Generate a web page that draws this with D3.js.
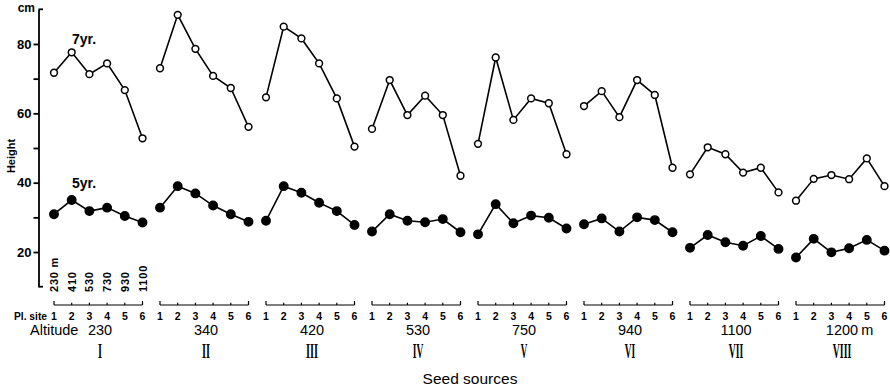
<!DOCTYPE html>
<html>
<head>
<meta charset="utf-8">
<script src="https://cdn.jsdelivr.net/npm/d3@7"></script>
<style>
  html, body { margin: 0; padding: 0; background: #fff; }
  svg { display: block; font-family: "Liberation Sans", Arial, sans-serif; }
</style>
</head>
<body>
<svg id="chart" width="890" height="392"></svg>
<script>
// Seed-source groups and their altitudes (m)
const groups = ["I", "II", "III", "IV", "V", "VI", "VII", "VIII"];
const altitudes = ["230", "340", "420", "530", "750", "940", "1100", "1200"];
// Planting sites and their altitudes
const sites = [1, 2, 3, 4, 5, 6];
const siteAltitudes = ["230 m", "410", "530", "730", "930", "1100"];
// Height (cm) by group, one value per planting site
const height7yr = [
  [71.7, 77.6, 71.3, 74.4, 66.7, 52.8],
  [73.0, 88.4, 78.6, 70.8, 67.3, 56.1],
  [64.6, 85.0, 81.6, 74.4, 64.3, 50.4],
  [55.5, 69.6, 59.5, 65.1, 59.5, 42.0],
  [51.2, 76.1, 58.1, 64.3, 62.9, 48.2],
  [62.1, 66.4, 58.9, 69.6, 65.3, 44.3],
  [42.4, 50.2, 48.2, 42.9, 44.3, 37.2],
  [34.8, 41.1, 42.2, 41.0, 47.0, 39.0]
];
const height5yr = [
  [30.9, 35.0, 31.8, 32.8, 30.4, 28.5],
  [32.8, 39.0, 36.9, 33.4, 30.9, 28.7],
  [29.0, 39.0, 37.1, 34.2, 31.8, 27.8],
  [25.9, 30.9, 29.0, 28.6, 29.5, 25.7],
  [25.1, 33.8, 28.3, 30.5, 29.9, 26.8],
  [28.0, 29.7, 25.9, 30.0, 29.2, 25.7],
  [21.2, 24.9, 22.8, 21.8, 24.6, 20.9],
  [18.4, 23.8, 19.9, 21.1, 23.5, 20.4]
];
const yTicks = [20, 30, 40, 50, 60, 70, 80];
const yTickLabels = [20, 40, 60, 80];

const svg = d3.select("#chart");

const y = d3.scaleLinear().domain([10, 90]).range([286.7, 9.3]);
const xGroup = d3.scaleBand().domain(groups).range([45.5, 893.5]);
const xSite = d3.scaleLinear().domain([1, 6]).range([8.5, 97]);
const gx = (g, s) => xGroup(g) + xSite(s);
const gCenter = g => xGroup(g) + xGroup.bandwidth() / 2;

// Y axis
const axisX = 38.5;
const yAxis = d3.axisLeft(y).tickValues(yTicks).tickSize(5).tickSizeOuter(0)
  .tickFormat(d => yTickLabels.includes(d) ? d : "");
const ag = svg.append("g").attr("transform", `translate(${axisX},0)`).call(yAxis);
ag.select(".domain").attr("stroke", "#000").attr("stroke-width", 1.8);
ag.selectAll(".tick line").attr("stroke", "#000").attr("stroke-width", 1.8);
ag.selectAll(".tick text").attr("font-size", 13).attr("font-weight", "bold")
  .attr("fill", "#000").attr("x", -7);
// top and bottom end ticks pointing right
svg.append("line").attr("x1", axisX).attr("x2", axisX + 4.5)
  .attr("y1", y(90)).attr("y2", y(90)).attr("stroke", "#000").attr("stroke-width", 1.8);
svg.append("line").attr("x1", axisX).attr("x2", axisX + 4.5)
  .attr("y1", y(10)).attr("y2", y(10)).attr("stroke", "#000").attr("stroke-width", 1.8);
svg.append("text").attr("x", 35).attr("y", y(90) + 3).attr("text-anchor", "end")
  .attr("font-size", 12).attr("font-weight", "bold").text("cm");

svg.append("text").attr("transform", `translate(15,156) rotate(-90)`)
  .attr("text-anchor", "middle").attr("font-size", 11).attr("font-weight", "bold").text("Height");

// Series
const line = d3.line().x(d => d.x).y(d => d.y);
function drawSeries(data, filled) {
  groups.forEach((g, gi) => {
    const pts = sites.map((s, si) => ({ x: gx(g, s), y: y(data[gi][si]) }));
    svg.append("path").attr("d", line(pts)).attr("fill", "none")
      .attr("stroke", "#000").attr("stroke-width", 1.6);
    svg.selectAll(null).data(pts).enter().append("circle")
      .attr("cx", d => d.x).attr("cy", d => d.y)
      .attr("r", filled ? 4.2 : 3.4)
      .attr("fill", filled ? "#000" : "#fff")
      .attr("stroke", "#000").attr("stroke-width", 1.5);
  });
}
drawSeries(height7yr, false);
drawSeries(height5yr, true);

svg.append("text").attr("x", 84).attr("y", 44).attr("text-anchor", "middle")
  .attr("font-size", 14).attr("font-weight", "bold").text("7yr.");
svg.append("text").attr("x", 84).attr("y", 188).attr("text-anchor", "middle")
  .attr("font-size", 14).attr("font-weight", "bold").text("5yr.");

// Planting-site altitudes, written vertically above group I
svg.selectAll(null).data(sites).enter().append("text")
  .attr("transform", (s) => `translate(${gx(groups[0], s) + 4},292) rotate(-90)`)
  .attr("font-size", 11).attr("font-weight", "bold").attr("letter-spacing", 0.8)
  .text((s, i) => siteAltitudes[i]);

// Site brackets and numbers
const bracketY = 305;
groups.forEach(g => {
  svg.append("line").attr("x1", gx(g, 1)).attr("x2", gx(g, 6))
    .attr("y1", bracketY).attr("y2", bracketY).attr("stroke", "#000").attr("stroke-width", 1.2);
  sites.forEach(s => {
    const end = s === 1 || s === 6;
    svg.append("line").attr("x1", gx(g, s)).attr("x2", gx(g, s))
      .attr("y1", bracketY).attr("y2", bracketY - (end ? 4 : 2.2))
      .attr("stroke", "#000").attr("stroke-width", 1.2);
    svg.append("text").attr("x", gx(g, s)).attr("y", 320).attr("text-anchor", "middle")
      .attr("font-size", 10.5).attr("font-weight", "bold").text(s);
  });
});
svg.append("text").attr("x", 14).attr("y", 320).attr("font-size", 11)
  .attr("font-weight", "bold").attr("textLength", 33).attr("lengthAdjust", "spacingAndGlyphs")
  .text("Pl. site");

// Altitude of each seed source
svg.append("text").attr("x", 30).attr("y", 335).attr("font-size", 14.5).text("Altitude");
groups.forEach((g, gi) => {
  const t = svg.append("text").attr("y", 335).attr("font-size", 14.5).text(altitudes[gi]);
  const w = t.node().getComputedTextLength();
  t.attr("x", gCenter(g) + 1.5 - w / 2);
  if (gi === groups.length - 1) {
    t.append("tspan").attr("dx", 3).text("m");
  }
});

// Roman numerals
const charW = { I: 4, V: 6.5 };
groups.forEach(g => {
  const w = g.split("").reduce((a, c) => a + charW[c], 0);
  svg.append("text").attr("x", gCenter(g) + 1.5 - w / 2).attr("y", 358)
    .attr("font-family", "'Liberation Serif', 'DejaVu Serif', serif")
    .attr("font-size", 21).attr("font-weight", "bold")
    .attr("textLength", w).attr("lengthAdjust", "spacingAndGlyphs")
    .text(g);
});

svg.append("text").attr("x", 470).attr("y", 384).attr("text-anchor", "middle")
  .attr("font-size", 15.5).text("Seed sources");
</script>
</body>
</html>
